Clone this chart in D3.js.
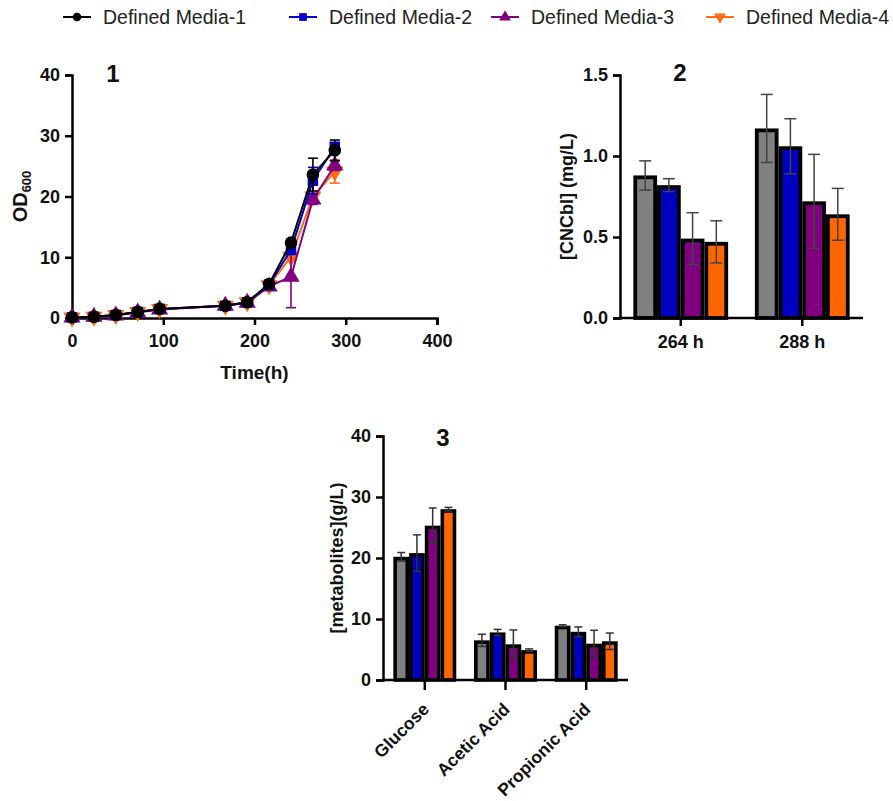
<!DOCTYPE html>
<html>
<head>
<meta charset="utf-8">
<script src="https://cdn.jsdelivr.net/npm/d3@7"></script>
<style>
  body { margin: 0; background: #fff; }
  svg { display: block; }
  text { font-family: "Liberation Sans", Arial, sans-serif; }
</style>
</head>
<body>
<svg id="chart" width="893" height="801"></svg>
<script>
// ---- Series ----
const seriesNames = ["Defined Media-1", "Defined Media-2", "Defined Media-3", "Defined Media-4"];
const lineColors = ["#000000", "#0000cc", "#800080", "#ff6a13"];
const barColors = ["#808080", "#0000c0", "#800080", "#ff6600"];
const markerShapes = ["circle", "square", "triangle", "triangleDown"];

// ---- Panel 1: growth (OD600 vs time) ----
const hours = [0, 24, 48, 72, 96, 168, 192, 216, 240, 264, 288];
const od1 = [0.1, 0.2, 0.5, 1.0, 1.5, 2.0, 2.6, 5.6, 12.4, 23.6, 27.6];
const od2 = [0.1, 0.2, 0.5, 1.0, 1.5, 2.0, 2.6, 5.5, 11.2, 22.6, 28.2];
const od3 = [0.1, 0.2, 0.4, 0.9, 1.4, 2.0, 2.5, 5.2, 6.8, 19.5, 25.1];
const od4 = [0.1, 0.2, 0.5, 1.0, 1.5, 2.0, 2.6, 5.4, 10.1, 20.0, 24.1];
const od1Err = [0, 0, 0, 0, 0, 0, 0, 0, 0.4, 2.7, 1.7];
const od2Err = [0, 0, 0, 0, 0, 0, 0, 0, 0.4, 2.2, 0.6];
const od3Err = [0, 0, 0, 0, 0, 0, 0, 0, 5.1, 0.8, 0.8];
const od4Err = [0, 0, 0, 0, 0, 0, 0, 0, 0.8, 0.6, 1.9];
const timeTicks = [0, 100, 200, 300, 400];
const odTicks = [0, 10, 20, 30, 40];

// ---- Panel 2: CNCbl titre ----
const sampleTimes = ["264 h", "288 h"];
const cnc1 = [0.88, 1.17];
const cnc2 = [0.82, 1.06];
const cnc3 = [0.49, 0.72];
const cnc4 = [0.47, 0.64];
const cnc1Err = [0.09, 0.21];
const cnc2Err = [0.04, 0.17];
const cnc3Err = [0.16, 0.29];
const cnc4Err = [0.13, 0.16];
const cncTicks = [0, 0.5, 1.0, 1.5];

// ---- Panel 3: metabolites ----
const metabolites = ["Glucose", "Acetic Acid", "Propionic Acid"];
const met1 = [20.2, 6.5, 8.9];
const met2 = [20.8, 7.8, 7.9];
const met3 = [25.3, 5.85, 5.95];
const met4 = [28.0, 4.9, 6.35];
const met1Err = [0.7, 1.0, 0.15];
const met2Err = [3.0, 0.5, 0.8];
const met3Err = [2.9, 2.35, 2.2];
const met4Err = [0.3, 0.2, 1.35];
const metTicks = [0, 10, 20, 30, 40];

const odSeries = [od1, od2, od3, od4];
const odErrs = [od1Err, od2Err, od3Err, od4Err];
const cncSeries = [cnc1, cnc2, cnc3, cnc4];
const cncErrs = [cnc1Err, cnc2Err, cnc3Err, cnc4Err];
const metSeries = [met1, met2, met3, met4];
const metErrs = [met1Err, met2Err, met3Err, met4Err];

const svg = d3.select("#chart");
const AXIS_W = 2.5;
const FONT = "\"Liberation Sans\", Arial, sans-serif";

function styleAxis(g) {
  g.select(".domain").attr("stroke", "#000").attr("stroke-width", AXIS_W);
  g.selectAll(".tick line").attr("stroke", "#000").attr("stroke-width", AXIS_W);
  g.selectAll(".tick text")
    .attr("fill", "#111")
    .attr("font-size", 18)
    .attr("font-weight", "bold")
    .attr("font-family", FONT);
}

function markerPath(shape, size) {
  const map = {
    circle: d3.symbolCircle,
    square: d3.symbolSquare,
    triangle: d3.symbolTriangle,
    triangleDown: d3.symbolTriangle
  };
  return d3.symbol(map[shape], size)();
}

function drawMarker(g, shape, cx, cy, size, color) {
  const rot = shape === "triangleDown" ? " rotate(180)" : "";
  return g.append("path")
    .attr("d", markerPath(shape, size))
    .attr("fill", color)
    .attr("transform", `translate(${cx},${cy})${rot}`);
}

// ---- Legend ----
const legendX = [63, 289, 491, 706];
const legend = svg.append("g");
seriesNames.forEach((name, i) => {
  const g = legend.append("g").attr("transform", `translate(${legendX[i]},17)`);
  g.append("line").attr("x1", 0).attr("x2", 28).attr("y1", 0).attr("y2", 0)
    .attr("stroke", lineColors[i]).attr("stroke-width", 2);
  drawMarker(g, markerShapes[i], 14, 0, 60, lineColors[i]);
  g.append("text").attr("x", 40).attr("y", 7)
    .attr("font-size", 19.5).attr("fill", "#222").text(name);
});

// ---- Panel 1 ----
{
  const x = d3.scaleLinear().domain([0, 400]).range([72, 437]);
  const y = d3.scaleLinear().domain([0, 40]).range([318, 75]);
  const g = svg.append("g");

  g.append("g").attr("transform", `translate(0,${y(0)})`)
    .call(d3.axisBottom(x).tickValues(timeTicks).tickFormat(d3.format("d")).tickSizeOuter(0).tickSize(7).tickPadding(9))
    .call(styleAxis);
  g.append("g").attr("transform", `translate(${x(0)},0)`)
    .call(d3.axisLeft(y).tickValues(odTicks).tickFormat(d3.format("d")).tickSizeOuter(0).tickSize(7).tickPadding(5))
    .call(styleAxis);

  const line = d3.line().x((d, i) => x(hours[i])).y(d => y(d));
  const sizes = [125, 110, 130, 130];
  [3, 2, 1, 0].forEach(s => {
    const vals = odSeries[s];
    const errs = odErrs[s];
    const sg = g.append("g");
    // error bars
    vals.forEach((v, i) => {
      const e = errs[i];
      if (!e) return;
      const cx = x(hours[i]);
      sg.append("line").attr("x1", cx).attr("x2", cx).attr("y1", y(v - e)).attr("y2", y(v + e))
        .attr("stroke", lineColors[s]).attr("stroke-width", 1.6);
      [v - e, v + e].forEach(t => sg.append("line")
        .attr("x1", cx - 5).attr("x2", cx + 5).attr("y1", y(t)).attr("y2", y(t))
        .attr("stroke", lineColors[s]).attr("stroke-width", 1.6));
    });
    sg.append("path").datum(vals).attr("d", line)
      .attr("fill", "none").attr("stroke", lineColors[s]).attr("stroke-width", 2);
    vals.forEach((v, i) => drawMarker(sg, markerShapes[s], x(hours[i]), y(v), sizes[s], lineColors[s]));
  });

  g.append("text").attr("x", (x(0) + x(400)) / 2).attr("y", 379)
    .attr("text-anchor", "middle").attr("font-size", 19).attr("font-weight", "bold")
    .attr("fill", "#111").text("Time(h)");
  const yl = g.append("text").attr("transform", `translate(27,${(y(0) + y(40)) / 2}) rotate(-90)`)
    .attr("text-anchor", "middle").attr("font-size", 20).attr("font-weight", "bold").attr("fill", "#111");
  yl.append("tspan").text("OD");
  yl.append("tspan").attr("font-size", 13).attr("dy", 4).text("600");

  g.append("text").attr("x", 113).attr("y", 82).attr("text-anchor", "middle")
    .attr("font-size", 24).attr("font-weight", "bold").attr("fill", "#111").text("1");
}

// ---- Grouped bar helper ----
function groupedBars(opts) {
  const { cats, series, errs, x0, x1, y0, y1, yMax, ticks, fmt, label, labelX, pinner, pouter, sw, capW, errColor, tickLen, rotate } = opts;
  const x = d3.scaleBand().domain(cats).range([x0, x1]).paddingInner(pinner).paddingOuter(pouter);
  const xs = d3.scaleBand().domain(d3.range(series.length)).range([0, x.bandwidth()]);
  const y = d3.scaleLinear().domain([0, yMax]).range([y0, y1]);
  const g = svg.append("g");

  const data = [];
  cats.forEach((c, ci) => series.forEach((vals, si) => data.push({ c, si, v: vals[ci], e: errs[si][ci] })));

  // borders drawn inside each bar so neighbouring bars show a double-width divider
  g.selectAll("rect.bar").data(data).join("rect").attr("class", "bar")
    .attr("x", d => x(d.c) + xs(d.si) + sw / 2)
    .attr("width", xs.bandwidth() - sw)
    .attr("y", d => y(d.v) + sw / 2)
    .attr("height", d => y(0) - y(d.v) - sw / 2)
    .attr("fill", d => barColors[d.si])
    .attr("stroke", "#000").attr("stroke-width", sw);

  const eg = g.append("g").attr("stroke", errColor).attr("stroke-width", 1.5);
  data.forEach(d => {
    const cx = x(d.c) + xs(d.si) + xs.bandwidth() / 2;
    eg.append("line").attr("x1", cx).attr("x2", cx).attr("y1", y(d.v - d.e)).attr("y2", y(d.v + d.e));
    [d.v - d.e, d.v + d.e].forEach(t => eg.append("line")
      .attr("x1", cx - capW / 2).attr("x2", cx + capW / 2).attr("y1", y(t)).attr("y2", y(t)));
  });

  const xa = g.append("g").attr("transform", `translate(0,${y0})`)
    .call(d3.axisBottom(x).tickSizeOuter(0).tickSize(tickLen).tickPadding(9))
    .call(styleAxis);
  xa.select(".domain").attr("d", `M${x0},0H${x1}`);
  if (rotate) {
    xa.selectAll(".tick text")
      .attr("font-size", 17.5)
      .attr("text-anchor", "end")
      .attr("transform", "translate(1,26) rotate(-45)")
      .attr("dy", "0.35em").attr("y", 0);
  }
  g.append("g").attr("transform", `translate(${x0},0)`)
    .call(d3.axisLeft(y).tickValues(ticks).tickFormat(fmt).tickSizeOuter(0).tickSize(7).tickPadding(5))
    .call(styleAxis);

  g.append("text").attr("transform", `translate(${labelX},${(y0 + y1) / 2}) rotate(-90)`)
    .attr("text-anchor", "middle").attr("font-size", 18).attr("font-weight", "bold")
    .attr("fill", "#111").text(label);
  return g;
}

// ---- Panel 2 ----
const g2 = groupedBars({
  cats: sampleTimes, series: cncSeries, errs: cncErrs,
  x0: 620, x1: 863, y0: 318, y1: 75, yMax: 1.5, ticks: cncTicks, fmt: d3.format(".1f"),
  label: "[CNCbl] (mg/L)", labelX: 573, pinner: 0.22, pouter: 0.11, sw: 3.8, capW: 12,
  errColor: "#444", tickLen: 8, rotate: false
});
g2.append("text").attr("x", 680).attr("y", 81).attr("text-anchor", "middle")
  .attr("font-size", 24).attr("font-weight", "bold").attr("fill", "#111").text("2");

// ---- Panel 3 ----
const g3 = groupedBars({
  cats: metabolites, series: metSeries, errs: metErrs,
  x0: 383, x1: 628, y0: 680, y1: 436, yMax: 40, ticks: metTicks, fmt: d3.format("d"),
  label: "[metabolites](g/L)", labelX: 343, pinner: 0.22, pouter: 0.128, sw: 3.6, capW: 8,
  errColor: "#333", tickLen: 10, rotate: true
});
g3.append("text").attr("x", 443).attr("y", 446).attr("text-anchor", "middle")
  .attr("font-size", 24).attr("font-weight", "bold").attr("fill", "#111").text("3");
</script>
</body>
</html>
